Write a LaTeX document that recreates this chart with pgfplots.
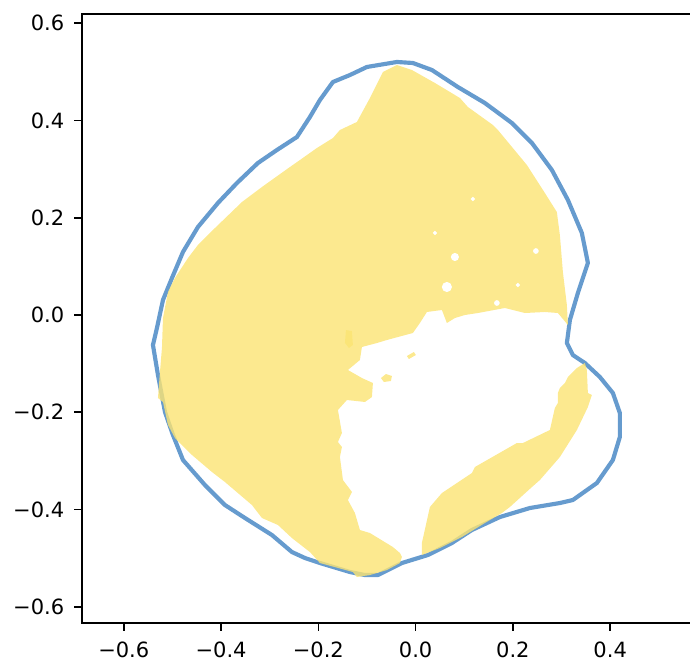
\documentclass[border=0pt]{standalone}
\usepackage{pgfplots}
\pgfplotsset{compat=1.18}
\usepackage{fontspec}
\setmainfont{DejaVu Sans}
\definecolor{lineblue}{RGB}{102,155,206}
\definecolor{fillylw}{RGB}{251,228,115}
\begin{document}
\begin{tikzpicture}
\begin{axis}[
  scale only axis, width=308pt, height=304.65pt,
  xmin=-0.6865, xmax=0.58, ymin=-0.6341, ymax=0.6191,
  axis line style={line width=0.83pt},
  tick pos=left, tick align=outside, major tick length=3.65pt,
  every tick/.style={black, line width=0.83pt},
  xtick={-0.6,-0.4,-0.2,0,0.2,0.4},
  xticklabels={−0.6,−0.4,−0.2,0.0,0.2,0.4},
  ytick={-0.6,-0.4,-0.2,0,0.2,0.4,0.6},
  yticklabels={−0.6,−0.4,−0.2,0.0,0.2,0.4,0.6},
  every tick label/.append style={font=\fontsize{10.5}{12.5}\selectfont},
  xticklabel style={anchor=north, inner sep=0pt, yshift=-5.7pt, font=\fontsize{10.5}{12.5}\selectfont},
  yticklabel style={anchor=east, inner sep=0pt, xshift=-4.9pt, font=\fontsize{10.5}{12.5}\selectfont},
]
% outline
\addplot[lineblue, line width=2.08pt, line join=round] coordinates {
(-0.0384,0.5204) (-0.0056,0.5183) (0.0335,0.5039) (0.0869,0.4689) (0.1424,0.4360)
(0.1979,0.3949) (0.2391,0.3538) (0.2802,0.2982) (0.3131,0.2365) (0.3418,0.1687)
(0.3542,0.1070) (0.3336,0.0452) (0.3172,-0.0103) (0.3110,-0.0576) (0.3233,-0.0823)
(0.3480,-0.0987) (0.3788,-0.1275) (0.4056,-0.1604) (0.4199,-0.2016) (0.4199,-0.2509)
(0.4056,-0.2982) (0.3727,-0.3455) (0.3233,-0.3805) (0.2966,-0.3867) (0.2349,-0.3970)
(0.1733,-0.4155) (0.1157,-0.4422) (0.0746,-0.4689) (0.0253,-0.4936) (-0.0282,-0.5101)
(-0.0775,-0.5348) (-0.1042,-0.5348) (-0.1350,-0.5286) (-0.1967,-0.5101) (-0.2275,-0.4998)
(-0.2543,-0.4875) (-0.2954,-0.4525) (-0.3509,-0.4175) (-0.3920,-0.3908) (-0.4331,-0.3497)
(-0.4783,-0.2982) (-0.4989,-0.2468) (-0.5153,-0.1995) (-0.5297,-0.1234) (-0.5400,-0.0617)
(-0.5318,-0.0267) (-0.5194,0.0309) (-0.5009,0.0761) (-0.4783,0.1296) (-0.4475,0.1810)
(-0.4064,0.2304) (-0.3673,0.2715) (-0.3242,0.3126) (-0.2851,0.3394) (-0.2440,0.3661)
(-0.2173,0.4072) (-0.1967,0.4422) (-0.1700,0.4792) (-0.1350,0.4936) (-0.1001,0.5101)
(-0.0384,0.5204)
} -- cycle;
% main region
\addplot[draw=none, fill=fillylw, fill opacity=0.8] coordinates {
(-0.0384,0.5142) (-0.0672,0.4998) (-0.0939,0.4463) (-0.1207,0.3970) (-0.1556,0.3805)
(-0.1700,0.3640) (-0.2029,0.3435) (-0.2378,0.3188) (-0.2584,0.3044) (-0.3159,0.2633)
(-0.3570,0.2324) (-0.4125,0.1789) (-0.4475,0.1440) (-0.4680,0.1172) (-0.4948,0.0761)
(-0.5091,0.0473) (-0.5194,-0.0062) (-0.5215,-0.0679) (-0.5256,-0.1172) (-0.5297,-0.1707)
(-0.5194,-0.1789) (-0.5091,-0.2262) (-0.4948,-0.2530) (-0.4598,-0.2879) (-0.4187,-0.3229)
(-0.3920,-0.3435) (-0.3365,-0.3908) (-0.3159,-0.4175) (-0.2830,-0.4319) (-0.2543,-0.4587)
(-0.2173,-0.4875) (-0.1967,-0.5101) (-0.1289,-0.5286) (-0.1207,-0.5389) (-0.0939,-0.5348)
(-0.0590,-0.5245) (-0.0323,-0.5101) (-0.0282,-0.4977) (-0.0323,-0.4895) (-0.0467,-0.4772)
(-0.0939,-0.4484) (-0.1145,-0.4422) (-0.1248,-0.4072) (-0.1392,-0.3805) (-0.1309,-0.3640)
(-0.1494,-0.3394) (-0.1556,-0.2921) (-0.1515,-0.2715) (-0.1597,-0.2612) (-0.1515,-0.2427)
(-0.1597,-0.1954) (-0.1412,-0.1748) (-0.1042,-0.1789) (-0.0898,-0.1687) (-0.0878,-0.1399)
(-0.1104,-0.1296) (-0.1392,-0.1131) (-0.1145,-0.0926) (-0.1104,-0.0658) (-0.0795,-0.0576)
(-0.0590,-0.0514) (-0.0056,-0.0370) (0.0088,-0.0165) (0.0232,0.0062) (0.0541,0.0103)
(0.0643,-0.0165) (0.0808,-0.0062) (0.1013,0.0000) (0.1281,0.0041) (0.1836,0.0144)
(0.2247,0.0041) (0.2658,0.0062) (0.2925,0.0041) (0.3131,-0.0206) (0.3110,0.0206)
(0.3028,0.0884) (0.2966,0.1645) (0.2904,0.2118) (0.2658,0.2509) (0.2288,0.3085)
(0.1692,0.3805) (0.1589,0.3908) (0.1075,0.4278) (0.0911,0.4463) (0.0397,0.4772)
(-0.0076,0.5039)
} -- cycle;
% lower right strip
\addplot[draw=none, fill=fillylw, fill opacity=0.8] coordinates {
(0.3480,-0.0987) (0.3521,-0.1131) (0.3542,-0.1604) (0.3624,-0.1645) (0.3542,-0.1892)
(0.3316,-0.2365) (0.2966,-0.2921) (0.2555,-0.3394) (0.2391,-0.3538) (0.1938,-0.3949)
(0.1774,-0.4072) (0.1424,-0.4278) (0.0952,-0.4566) (0.0499,-0.4792) (0.0129,-0.4936)
(0.0129,-0.4689) (0.0294,-0.3949) (0.0541,-0.3661) (0.1157,-0.3250) (0.1219,-0.3126)
(0.2082,-0.2633) (0.2206,-0.2633) (0.2761,-0.2365) (0.2863,-0.1913) (0.2925,-0.1810)
(0.2925,-0.1604) (0.2966,-0.1501) (0.3069,-0.1399) (0.3131,-0.1275) (0.3316,-0.1090)
} -- cycle;
% small islands
\addplot[draw=none, fill=fillylw, fill opacity=0.8] coordinates {
(-0.1433,-0.0309) (-0.1309,-0.0329) (-0.1289,-0.0617) (-0.1371,-0.0679) (-0.1453,-0.0576)
} -- cycle;
\addplot[draw=none, fill=fillylw, fill opacity=0.8] coordinates {
(-0.0713,-0.1296) (-0.0610,-0.1214) (-0.0487,-0.1255) (-0.0508,-0.1357) (-0.0652,-0.1378)
} -- cycle;
\addplot[draw=none, fill=fillylw, fill opacity=0.8] coordinates {
(-0.0179,-0.0843) (-0.0035,-0.0761) (0.0006,-0.0823) (-0.0138,-0.0905)
} -- cycle;
% small holes
\addplot[white, only marks, mark=*, mark size=0.8pt, mark options={fill=white, draw=white}] coordinates {
(0.1178,0.2386) (0.0397,0.1687) (0.2103,0.0617)
};
\addplot[white, only marks, mark=*, mark size=1.2pt, mark options={fill=white, draw=white}] coordinates {
(0.2473,0.1316) (0.1671,0.0247)
};
\addplot[white, only marks, mark=*, mark size=1.8pt, mark options={fill=white, draw=white}] coordinates {
(0.0808,0.1193)
};
\addplot[white, only marks, mark=*, mark size=2.3pt, mark options={fill=white, draw=white}] coordinates {
(0.0643,0.0576)
};
\end{axis}
\pgfresetboundingbox
\path[use as bounding box] (-40.85pt,-18.85pt) rectangle (304.15pt,311.65pt);
\end{tikzpicture}
\end{document}
